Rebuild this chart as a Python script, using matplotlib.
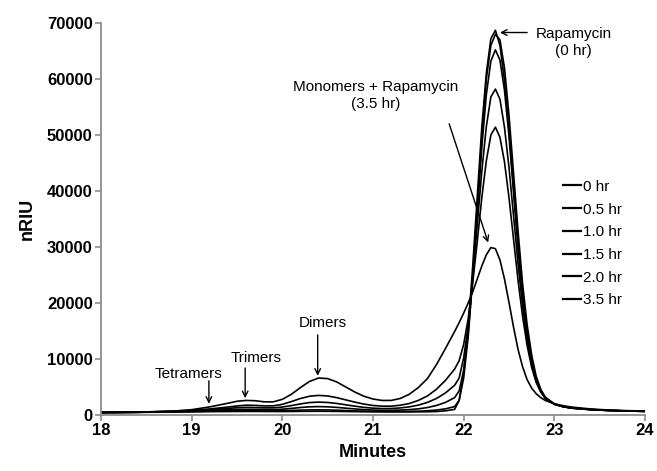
import matplotlib
matplotlib.use("Agg")
import matplotlib.pyplot as plt

plt.rcParams['font.family'] = ['Liberation Sans', 'DejaVu Sans']

# retention time grid (minutes), shared by all traces
minutes = [18.0, 18.4, 18.8, 19.0, 19.2, 19.4,
           19.5, 19.6, 19.7, 19.8, 19.9, 20.0, 20.1, 20.2, 20.3, 20.4,
           20.5, 20.6, 20.7, 20.8, 20.9, 21.0, 21.1, 21.2, 21.3, 21.4,
           21.5, 21.6, 21.7, 21.8, 21.9,
           21.95, 22.0, 22.05, 22.1, 22.15, 22.2, 22.25, 22.3, 22.35, 22.4,
           22.45, 22.5, 22.55, 22.6, 22.65, 22.7, 22.75, 22.8, 22.85, 22.9,
           23.0, 23.1, 23.2, 23.4, 23.6, 23.8, 24.0]

riu_0 = [450, 470, 520, 560, 600, 620,
         630, 640, 640, 630, 620, 620, 630, 650, 660, 670,
         660, 640, 620, 600, 580, 570, 560, 550, 550, 550,
         560, 580, 620, 750, 1000,
         2600, 7400, 15600, 26600, 39000, 51400, 61000, 67200, 68700, 66000,
         59800, 50900, 40600, 30300, 21500, 14800, 9800, 6400, 4300, 3000,
         1900, 1450, 1200, 950, 800, 720, 650]

riu_05 = [450, 480, 560, 620, 700, 760,
          790, 800, 790, 770, 760, 780, 820, 870, 910, 920,
          900, 860, 800, 740, 690, 650, 630, 620, 630, 650,
          690, 760, 880, 1100, 1500,
          2600, 6600, 14000, 24500, 37000, 49500, 60000, 66000, 68000, 67000,
          62000, 53500, 43200, 32800, 23400, 16100, 10700, 6900, 4600, 3200,
          2000, 1500, 1250, 980, 820, 730, 660]

riu_10 = [450, 490, 600, 690, 820, 940,
          990, 1010, 990, 960, 960, 1040, 1180, 1340, 1460, 1500,
          1460, 1360, 1220, 1080, 960, 880, 840, 840, 880, 960,
          1100, 1330, 1700, 2250, 3100,
          4300, 8000, 14800, 24600, 36200, 47800, 57200, 63200, 65200, 63400,
          58000, 49800, 39800, 29800, 21000, 14500, 9600, 6300, 4300, 3000,
          1950, 1480, 1230, 970, 810, 720, 650]

riu_15 = [450, 500, 640, 760, 950, 1180,
          1300, 1360, 1330, 1270, 1280, 1420, 1680, 1980, 2220, 2300,
          2240, 2060, 1820, 1580, 1360, 1220, 1150, 1160, 1260, 1450,
          1760, 2250, 2950, 3950, 5300,
          6600, 10200, 16000, 24500, 34000, 43500, 51500, 56800, 58200, 56400,
          51400, 44200, 35600, 27000, 19400, 13500, 9100, 6100, 4200, 3000,
          1950, 1480, 1230, 970, 810, 720, 650]

riu_20 = [450, 510, 680, 830, 1080, 1420,
          1620, 1750, 1720, 1620, 1640, 1900, 2400, 2950, 3350, 3500,
          3400, 3100, 2700, 2300, 1950, 1700, 1580, 1580, 1740, 2050,
          2600, 3400, 4600, 6200, 8200,
          9700, 12600, 17200, 23600, 31000, 38800, 45400, 50000, 51400, 49600,
          45200, 38800, 31400, 24000, 17600, 12400, 8500, 5800, 4100, 3000,
          1950, 1480, 1230, 970, 810, 720, 650]

riu_35 = [450, 500, 700, 950, 1450, 2100,
          2450, 2600, 2550, 2350, 2350, 2800, 3700, 4900, 6000, 6600,
          6500, 5900, 5000, 4100, 3350, 2850, 2600, 2600, 2950, 3700,
          4900, 6500, 9000, 11900, 14900,
          16500, 18200, 20000, 22000, 24300, 26600, 28600, 29900, 29700, 27700,
          24300, 20100, 15700, 11700, 8600, 6300, 4800, 3800, 3100, 2600,
          2000, 1650, 1400, 1080, 890, 780, 700]

labels = ["0 hr", "0.5 hr", "1.0 hr", "1.5 hr", "2.0 hr", "3.5 hr"]
traces = [riu_0, riu_05, riu_10, riu_15, riu_20, riu_35]

fig = plt.figure(figsize=(6.57, 4.71), dpi=100)
ax = fig.add_axes([101 / 657, 1 - 415 / 471, 544 / 657, 392 / 471])

for lab, y in zip(labels, traces):
    ax.plot(minutes, y, color="black", lw=1.2, label=lab)

ax.set_xlim(18, 24)
ax.set_ylim(0, 70000)
ax.set_xticks(range(18, 25))
ax.set_yticks(range(0, 70001, 10000))

grey = "#8c8c8c"
for s in ["top", "right"]:
    ax.spines[s].set_visible(False)
for s in ["left", "bottom"]:
    ax.spines[s].set_color(grey)
    ax.spines[s].set_linewidth(1.3)
ax.tick_params(colors=grey, width=1.2, length=4, pad=2,
               labelcolor="black", labelsize=12)
for t in ax.get_xticklabels() + ax.get_yticklabels():
    t.set_fontweight("bold")

ax.set_xlabel("Minutes", fontsize=13, fontweight="bold", labelpad=4)
ax.set_ylabel("nRIU", fontsize=13, fontweight="bold", labelpad=8)

# peak labels
arr = dict(arrowstyle="->", color="black", lw=1.0, shrinkA=0, shrinkB=0)
ax.annotate("", xy=(22.40, 68300), xytext=(22.70, 68300), arrowprops=arr)
ax.text(23.21, 66500, "Rapamycin\n(0 hr)", ha="center", va="center",
        fontsize=11, linespacing=1.25)

ax.annotate("", xy=(22.27, 30800), xytext=(21.84, 52000), arrowprops=arr)
ax.text(21.03, 57000, "Monomers + Rapamycin\n(3.5 hr)", ha="center",
        va="center", fontsize=11, linespacing=1.25)

ax.annotate("", xy=(20.39, 7000), xytext=(20.39, 14300), arrowprops=arr)
ax.text(20.45, 16400, "Dimers", ha="center", va="center", fontsize=11)

ax.annotate("", xy=(19.59, 3000), xytext=(19.59, 8400), arrowprops=arr)
ax.text(19.71, 10200, "Trimers", ha="center", va="center", fontsize=11)

ax.annotate("", xy=(19.19, 2000), xytext=(19.19, 6100), arrowprops=arr)
ax.text(18.97, 7300, "Tetramers", ha="center", va="center", fontsize=11)

leg = ax.legend(loc="upper left", bbox_to_anchor=(0.849, 0.60),
                frameon=False, fontsize=11, handlelength=1.2,
                handletextpad=0.1, labelspacing=0.57, borderpad=0,
                borderaxespad=0)
for h in leg.get_lines():
    h.set_linewidth(1.6)

fig.savefig("out.png", dpi=100)
